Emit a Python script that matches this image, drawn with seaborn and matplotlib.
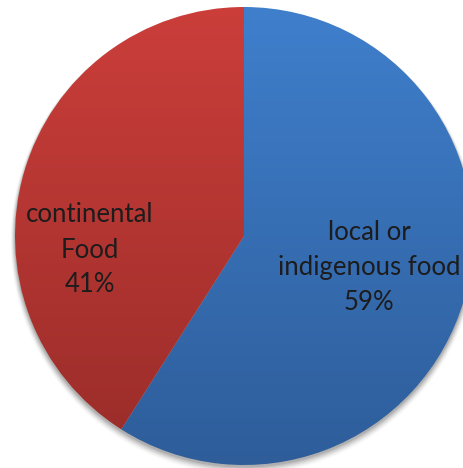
import numpy as np
import matplotlib
matplotlib.use("Agg")
import matplotlib.pyplot as plt
import seaborn as sns
from matplotlib.colors import LinearSegmentedColormap

categories = ["local or\nindigenous food", "continental\nFood"]
shares = [59, 41]
top_colors = ["#3f7fcc", "#cb3e3a"]
bottom_colors = ["#2e5d9a", "#992c29"]

sns.set_theme(style="white")
plt.rcParams['font.family'] = ['Lato', 'DejaVu Sans']

W, H = 464, 468
fig = plt.figure(figsize=(W / 100, H / 100), dpi=100)
ax = fig.add_axes([0, 0, 1, 1])

cx, cy, r = 244, H - 236, 229

# soft shadow
for i, a in enumerate(np.linspace(0.10, 0.02, 6)):
    ax.add_patch(plt.Circle((cx, cy - 2 - i * 0.6), r + 0.5 + i * 0.8,
                            color="black", alpha=a, lw=0, zorder=0))

wedges, _ = ax.pie(shares, startangle=90, counterclock=False,
                   center=(cx, cy), radius=r, frame=True,
                   wedgeprops=dict(linewidth=0))

grad = np.linspace(0, 1, 256).reshape(-1, 1)
for w, ct, cb in zip(wedges, top_colors, bottom_colors):
    w.set_facecolor("none")
    cmap = LinearSegmentedColormap.from_list("g", [cb, ct])
    im = ax.imshow(grad, cmap=cmap, origin="lower",
                   extent=[cx - r, cx + r, cy - r, cy + r],
                   aspect="auto", zorder=1, interpolation="bilinear")
    im.set_clip_path(w)

label_pos = [(369, H - 268), (90, H - 250)]
for (lx, ly), cat, s in zip(label_pos, categories, shares):
    ax.text(lx, ly, f"{cat}\n{s}%", ha="center", va="center",
            multialignment="center",
            fontsize=18.5, color="#1c1c1c", linespacing=1.5, zorder=3)

ax.set_xlim(0, W)
ax.set_ylim(0, H)
ax.set_aspect("equal")
ax.axis("off")

fig.savefig("out.png", dpi=100)
